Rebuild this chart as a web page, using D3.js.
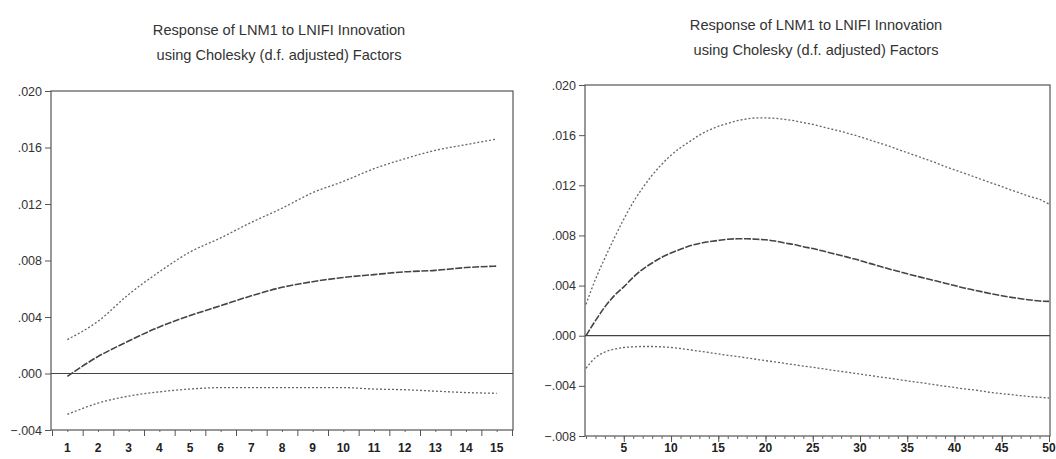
<!DOCTYPE html>
<html>
<head>
<meta charset="utf-8">
<script src="https://cdn.jsdelivr.net/npm/d3@7"></script>
<style>
  body { margin: 0; background: #fff; }
  svg { display: block; font-family: "Liberation Sans", Arial, sans-serif; }
</style>
</head>
<body>
<svg id="chart" width="1056" height="459"></svg>
<script>
// titles
const titleLines = ["Response of LNM1 to LNIFI Innovation", "using Cholesky (d.f. adjusted) Factors"];

// left panel: 15 periods
const leftPeriods = [1, 2, 3, 4, 5, 6, 7, 8, 9, 10, 11, 12, 13, 14, 15];
const leftResp  = [-0.0002, 0.0012, 0.0023, 0.0033, 0.0041, 0.0048, 0.0055, 0.0061, 0.0065, 0.0068, 0.0070, 0.0072, 0.0073, 0.0075, 0.0076];
const leftUpper = [0.0024, 0.0037, 0.0056, 0.0072, 0.0086, 0.0096, 0.0107, 0.0117, 0.0128, 0.0136, 0.0145, 0.0152, 0.0158, 0.0162, 0.0166];
const leftLower = [-0.0029, -0.0021, -0.0016, -0.0013, -0.0011, -0.0010, -0.0010, -0.0010, -0.0010, -0.0010, -0.0011, -0.00115, -0.00125, -0.00135, -0.0014];
const leftYTicks = [-0.004, 0, 0.004, 0.008, 0.012, 0.016, 0.020];

// right panel: 50 periods
const rightPeriods = [1, 2, 3, 4, 5, 6, 7, 8, 9, 10, 11, 12, 13, 14, 15, 16, 17, 18, 19, 20,
  21, 22, 23, 24, 25, 26, 27, 28, 29, 30, 31, 32, 33, 34, 35, 36, 37, 38, 39, 40,
  41, 42, 43, 44, 45, 46, 47, 48, 49, 50];
const rightResp = [0.0000, 0.0012, 0.0023, 0.0032, 0.0039, 0.00467, 0.0053, 0.0058, 0.00625, 0.0066,
  0.0069, 0.00717, 0.00736, 0.0075, 0.0076, 0.0077, 0.00773, 0.00773, 0.0077, 0.00765,
  0.00755, 0.0074, 0.00728, 0.0071, 0.00695, 0.00677, 0.00658, 0.0064, 0.0062, 0.0060,
  0.00577, 0.00556, 0.00534, 0.00515, 0.00494, 0.00475, 0.00456, 0.00438, 0.00419, 0.0040,
  0.00381, 0.00365, 0.00349, 0.00333, 0.00319, 0.00306, 0.00295, 0.00285, 0.00277, 0.00274];
const rightUpper = [0.0025, 0.0045, 0.0062, 0.0078, 0.0093, 0.01066, 0.0118, 0.0128, 0.01366, 0.0144,
  0.0150, 0.0155, 0.0160, 0.0164, 0.0167, 0.01694, 0.01715, 0.01729, 0.01737, 0.01737,
  0.01734, 0.01726, 0.01715, 0.0170, 0.01686, 0.01667, 0.01648, 0.0163, 0.01608, 0.01587,
  0.01562, 0.01538, 0.01514, 0.01487, 0.0146, 0.01434, 0.01407, 0.0138, 0.0135, 0.01323,
  0.01297, 0.0127, 0.01243, 0.01216, 0.0119, 0.01162, 0.01136, 0.0111, 0.01087, 0.0105];
const rightLower = [-0.0026, -0.00175, -0.0013, -0.00107, -0.00094, -0.00089, -0.00086, -0.00086, -0.00089, -0.00094,
  -0.00102, -0.00113, -0.00123, -0.00134, -0.00145, -0.00156, -0.00166, -0.00177, -0.00188, -0.00199,
  -0.00209, -0.0022, -0.00231, -0.00242, -0.00252, -0.00263, -0.00274, -0.00285, -0.00295, -0.00306,
  -0.00317, -0.00328, -0.00338, -0.00349, -0.0036, -0.0037, -0.00381, -0.00392, -0.00403, -0.00413,
  -0.00424, -0.00432, -0.00443, -0.00454, -0.00462, -0.0047, -0.00478, -0.00486, -0.00491, -0.00497];
const rightYTicks = [-0.008, -0.004, 0, 0.004, 0.008, 0.012, 0.016, 0.020];
const rightXLabels = [5, 10, 15, 20, 25, 30, 35, 40, 45, 50];

const svg = d3.select('#chart');
const fmt = v => d3.format('.3f')(v).replace('0.', '.');
const xLabelY = 452;

function drawPanel(opt) {
  const g = svg.append('g');

  // title
  g.selectAll('text.title')
    .data(titleLines)
    .enter().append('text')
    .attr('class', 'title')
    .attr('x', opt.titleX)
    .attr('y', (d, i) => opt.titleY + i * 25)
    .attr('text-anchor', 'middle')
    .attr('font-size', 14.6)
    .attr('fill', '#333')
    .text(d => d);

  const x = d3.scaleLinear().domain(opt.xDomain).range([opt.left + 1, opt.right - 1]);
  const y = d3.scaleLinear().domain(opt.yDomain).range([opt.bottom, opt.top]);

  // frame
  g.append('rect')
    .attr('x', opt.left).attr('y', opt.top)
    .attr('width', opt.right - opt.left).attr('height', opt.bottom - opt.top)
    .attr('fill', 'none').attr('stroke', '#555').attr('stroke-width', 1.2);

  // y axis
  const yAxis = g.append('g')
    .attr('transform', `translate(${opt.left},0)`)
    .call(d3.axisLeft(y).tickValues(opt.yTicks).tickFormat(fmt).tickSize(6).tickPadding(3));
  yAxis.select('.domain').remove();
  yAxis.selectAll('line').attr('stroke', '#555');
  yAxis.selectAll('text').attr('font-size', 12.5).attr('fill', '#333')
    .attr('font-family', '"Liberation Sans", Arial, sans-serif');

  // x axis: minor ticks
  const xMinor = g.append('g')
    .attr('transform', `translate(0,${opt.bottom})`)
    .call(d3.axisBottom(x).tickValues(opt.minorTicks).tickFormat('').tickSize(opt.minorSize));
  xMinor.select('.domain').remove();
  xMinor.selectAll('line').attr('stroke', '#666');

  // x axis: major ticks + labels
  const xMajor = g.append('g')
    .attr('transform', `translate(0,${opt.bottom})`)
    .call(d3.axisBottom(x).tickValues(opt.majorTicks).tickFormat('').tickSize(6));
  xMajor.select('.domain').remove();
  xMajor.selectAll('line').attr('stroke', '#555');

  g.selectAll('text.xlab')
    .data(opt.xLabels)
    .enter().append('text')
    .attr('class', 'xlab')
    .attr('x', d => x(d))
    .attr('y', xLabelY)
    .attr('text-anchor', 'middle')
    .attr('font-size', 12)
    .attr('font-weight', 'bold')
    .attr('fill', '#222')
    .text(d => d);

  // zero line
  g.append('line')
    .attr('x1', opt.left).attr('x2', opt.right)
    .attr('y1', y(0)).attr('y2', y(0))
    .attr('stroke', '#444').attr('stroke-width', 1.2);

  const line = d3.line()
    .x((d, i) => x(opt.periods[i]))
    .y(d => y(d))
    .curve(d3.curveMonotoneX);

  // confidence bands
  [opt.upper, opt.lower].forEach(s => {
    g.append('path')
      .datum(s)
      .attr('d', line)
      .attr('fill', 'none')
      .attr('stroke', '#666')
      .attr('stroke-width', 1.3)
      .attr('stroke-dasharray', '2,2');
  });

  // response
  g.append('path')
    .datum(opt.resp)
    .attr('d', line)
    .attr('fill', 'none')
    .attr('stroke', '#444')
    .attr('stroke-width', 1.6)
    .attr('stroke-dasharray', '7,1.5');
}

drawPanel({
  left: 51, right: 513, top: 91, bottom: 430,
  titleX: 279, titleY: 35,
  xDomain: [0.5, 15.5], yDomain: [-0.004, 0.020],
  yTicks: leftYTicks,
  periods: leftPeriods, resp: leftResp, upper: leftUpper, lower: leftLower,
  majorTicks: [0.5, 1.5, 2.5, 3.5, 4.5, 5.5, 6.5, 7.5, 8.5, 9.5, 10.5, 11.5, 12.5, 13.5, 14.5, 15.5],
  minorTicks: leftPeriods, minorSize: 2,
  xLabels: leftPeriods
});

drawPanel({
  left: 585, right: 1050, top: 85, bottom: 436,
  titleX: 816, titleY: 30,
  xDomain: [1, 50], yDomain: [-0.008, 0.020],
  yTicks: rightYTicks,
  periods: rightPeriods, resp: rightResp, upper: rightUpper, lower: rightLower,
  majorTicks: rightXLabels,
  minorTicks: rightPeriods, minorSize: 3,
  xLabels: rightXLabels
});
</script>
</body>
</html>
